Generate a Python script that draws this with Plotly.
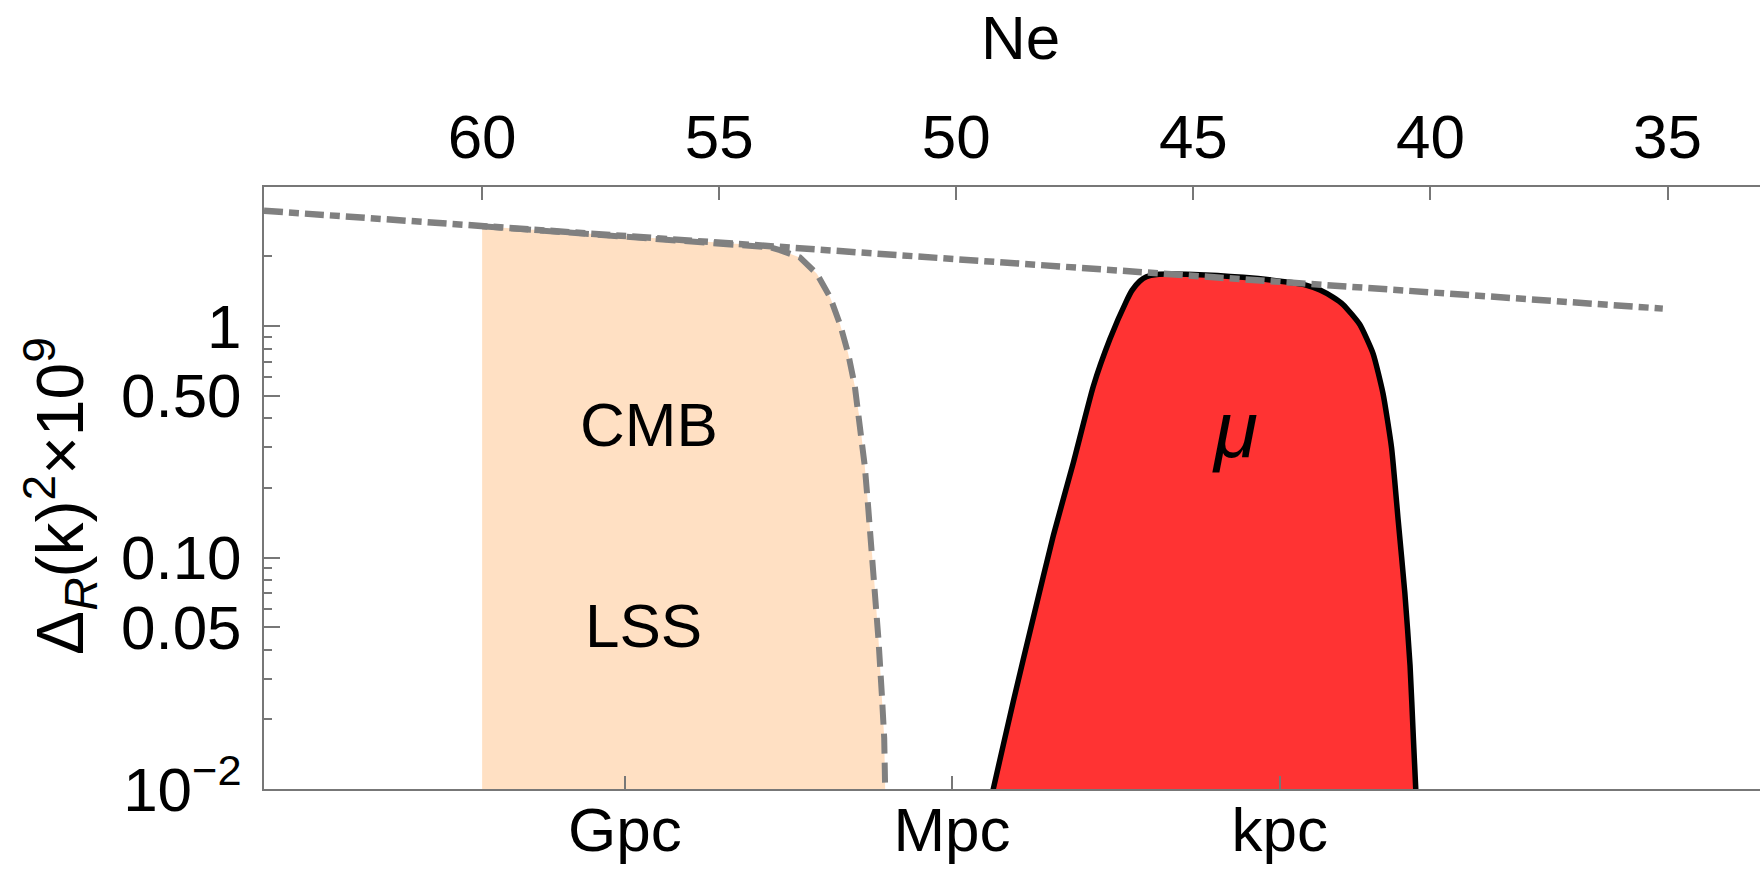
import plotly.graph_objects as go

# ---------------- data ----------------
# reference (dot-dashed) power spectrum vs number of e-folds
ne_ref = [64.6, 60.0, 55.0, 50.0, 45.0, 40.0, 35.1]
p_ref = [3.15, 2.70, 2.30, 1.95, 1.65, 1.40, 1.19]

# CMB / LSS constrained band: upper boundary (dashed curve)
ne_cmb = [60.0, 58.0, 56.0, 54.5, 53.93, 53.72, 53.30, 52.94, 52.66, 52.45,
          52.28, 52.14, 52.03, 51.93, 51.86, 51.78, 51.71, 51.64, 51.57, 51.52,
          51.50, 51.49]
p_cmb = [2.70, 2.53, 2.37, 2.26, 2.19, 2.13, 1.98, 1.683, 1.331, 1.016,
         0.761, 0.550, 0.383, 0.2485, 0.167, 0.1083, 0.0703, 0.0439, 0.0256, 0.0166,
         0.010, 0.008]
ne_cmb_edge = 60.0
p_floor = 0.008

# mu-distortion band (closed outline, continuing below the plotted range)
ne_mu = [49.55, 49.22, 48.80, 48.38, 47.95, 47.53, 47.11, 46.76, 46.41, 46.29,
         46.13, 45.99, 45.77, 45.00, 43.95, 42.89, 42.61, 42.33, 42.05, 41.84,
         41.49, 41.21, 41.00, 40.82, 40.68, 40.54, 40.43, 40.36, 40.31, 40.24]
p_mu = [0.005, 0.010, 0.0238, 0.0545, 0.1252, 0.2576, 0.550, 0.879, 1.285, 1.43,
        1.565, 1.635, 1.672, 1.672, 1.624, 1.538, 1.50, 1.432, 1.331, 1.238,
        1.016, 0.761, 0.511, 0.298, 0.1445, 0.0703, 0.0341, 0.0166, 0.010, 0.005]

# axes
ne_ticks = [60, 55, 50, 45, 40, 35]
scale_ticks_ne = [56.99, 50.09, 43.18]
scale_labels = ["Gpc", "Mpc", "kpc"]
y_major = [0.01, 0.05, 0.1, 0.5, 1]
y_major_text = ["10<sup>\u22122</sup>", "0.05", "0.10", "0.50", "1"]
y_minor = [0.02, 0.03, 0.04, 0.06, 0.07, 0.08, 0.09, 0.2, 0.3, 0.4,
           0.6, 0.7, 0.8, 0.9, 2]
x_range = [64.6, 33.05]
y_range_log = [-2, 0.601]

# labels placed in data coordinates (Ne, log10 value, italic, size)
region_labels = [("CMB", 56.48, -0.424, False, 62),
                 ("LSS", 56.59, -1.294, False, 62),
                 ("\u03bc", 44.12, -0.446, True, 80)]

# ---------------- figure ----------------
FONT = "Liberation Sans, Arial, Helvetica, sans-serif"
FS = 62
FRAME = "#777777"

fig = go.Figure()

# mu region
fig.add_trace(go.Scatter(
    x=ne_mu, y=p_mu, mode="lines", fill="toself",
    fillcolor="rgb(255,51,51)",
    line=dict(color="black", width=5.5, shape="spline", smoothing=0.5),
    xaxis="x", yaxis="y", hoverinfo="skip", showlegend=False))

# reference dot-dashed spectrum (on top axis, same scale)
fig.add_trace(go.Scatter(
    x=ne_ref, y=p_ref, mode="lines",
    line=dict(color="#808080", width=6.5, dash="19px,6px,10px,6px"),
    xaxis="x2", yaxis="y", hoverinfo="skip", showlegend=False))

# CMB / LSS fill
fig.add_trace(go.Scatter(
    x=[ne_cmb_edge] + ne_cmb, y=[p_floor] + p_cmb, mode="lines",
    fill="toself", fillcolor="rgba(255,133,15,0.25)",
    line=dict(width=0, color="rgba(0,0,0,0)"),
    xaxis="x", yaxis="y", hoverinfo="skip", showlegend=False))

# CMB dashed boundary
fig.add_trace(go.Scatter(
    x=ne_cmb, y=p_cmb, mode="lines",
    line=dict(color="#808080", width=6, dash="20px,9px"),
    xaxis="x", yaxis="y", hoverinfo="skip", showlegend=False))

axis_common = dict(
    showline=True, linecolor=FRAME, linewidth=2, mirror=False,
    ticks="inside", tickcolor=FRAME, tickwidth=2,
    showgrid=False, zeroline=False,
    tickfont=dict(family=FONT, size=FS, color="black"),
)

fig.update_layout(
    width=1760, height=870,
    margin=dict(l=264, r=0, t=187, b=81, autoexpand=False),
    paper_bgcolor="white", plot_bgcolor="white",
    font=dict(family=FONT, size=FS, color="black"),
    showlegend=False,
    xaxis=dict(range=x_range, tickmode="array", tickvals=scale_ticks_ne,
               ticktext=scale_labels, ticklen=13, side="bottom",
               ticklabelstandoff=-14,
               automargin=False, **axis_common),
    xaxis2=dict(range=x_range, tickmode="array", tickvals=ne_ticks,
                ticktext=[str(t) for t in ne_ticks], ticklen=13,
                side="top", overlaying="x", anchor="y",
                ticklabelstandoff=2,
                automargin=False, **axis_common),
    yaxis=dict(type="log", range=y_range_log, tickmode="array",
               tickvals=y_major, ticktext=y_major_text, ticklen=16,
               ticklabelstandoff=8,
               automargin=False,
               minor=dict(tickvals=y_minor, ticks="inside", ticklen=8,
                          tickcolor=FRAME, tickwidth=1.5, showgrid=False),
               **axis_common),
)

for txt, xn, ylog, ital, size in region_labels:
    fig.add_annotation(
        x=xn, y=ylog, xref="x", yref="y",
        text=f"<i>{txt}</i>" if ital else txt,
        showarrow=False, xanchor="center", yanchor="middle",
        font=dict(family=FONT, size=size, color="black"))

# top axis title
fig.add_annotation(x=0.5058, y=1.2476, xref="paper", yref="paper",
                   text="Ne", showarrow=False, xanchor="center",
                   yanchor="middle", font=dict(family=FONT, size=FS))

# y-axis title
fig.add_annotation(x=-0.1364, y=0.4867, xref="paper", yref="paper",
                   text="\u0394<sub><i>R</i></sub>(k)<sup>2</sup>\u00d710<sup>9</sup>",
                   textangle=-90, showarrow=False, xanchor="center",
                   yanchor="middle", font=dict(family=FONT, size=66))

fig.write_html("out.html")
